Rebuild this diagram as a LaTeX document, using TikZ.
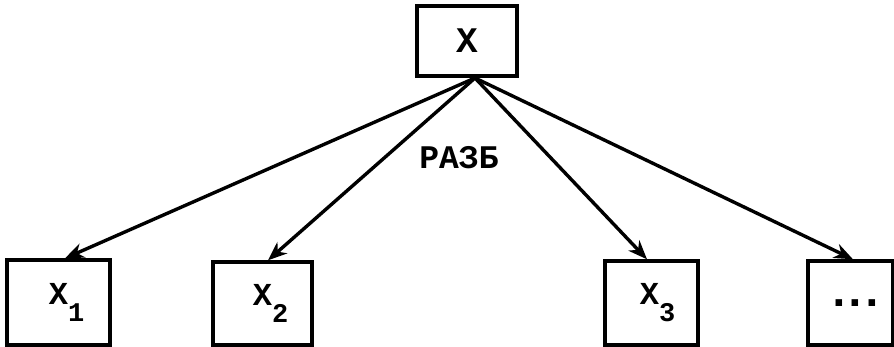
\documentclass[tikz,border=0pt]{standalone}
\usepackage{fontspec}
\newfontfamily\lmono{Liberation Mono}
\usetikzlibrary{arrows.meta}
\begin{document}
\begin{tikzpicture}[x=1pt,y=-1pt,
  box/.style={draw,line width=3.4pt,inner sep=0pt},
  lbl/.style={font=\lmono\bfseries\fontsize{32}{32}\selectfont},
  conn/.style={line width=3.4pt,-{Stealth[length=19pt,width=15pt,inset=6pt]}}]
\useasboundingbox[fill=white] (0,0) rectangle (894,347);
\node[box,lbl,minimum width=100pt,minimum height=70pt,font=\lmono\bfseries\fontsize{36}{36}\selectfont] (top) at (467,41) {X};
\node[box,lbl,minimum width=103pt,minimum height=85pt] (x1) at (58.5,302.5)
  {\hspace*{16pt}X\raisebox{-17pt}{\fontsize{27}{27}\selectfont 1}};
\node[box,lbl,minimum width=99pt,minimum height=83pt] (x2) at (262.5,303.5)
  {\hspace*{16pt}X\raisebox{-17pt}{\fontsize{27}{27}\selectfont 2}};
\node[box,lbl,minimum width=93pt,minimum height=84pt] (x3) at (651.5,303)
  {\hspace*{12pt}X\raisebox{-17pt}{\fontsize{27}{27}\selectfont 3}};
\node[box,lbl,minimum width=85pt,minimum height=84pt,font=\lmono\bfseries\fontsize{46}{46}\selectfont] (x4) at (850.5,303)
  {\hspace*{10pt}.\kern-11pt.\kern-11pt.};
\coordinate (o) at (475,78);
\draw[conn] (o) -- ([xshift=6.5pt]x1.north);
\draw[conn] (o) -- ([xshift=5.5pt]x2.north);
\draw[conn] (o) -- ([xshift=-4.5pt]x3.north);
\draw[conn] (o) -- ([xshift=2.5pt]x4.north);
\node[lbl,font=\lmono\bfseries\fontsize{33}{33}\selectfont] (razb) at (459,158) {РАЗБ};
\end{tikzpicture}
\end{document}
